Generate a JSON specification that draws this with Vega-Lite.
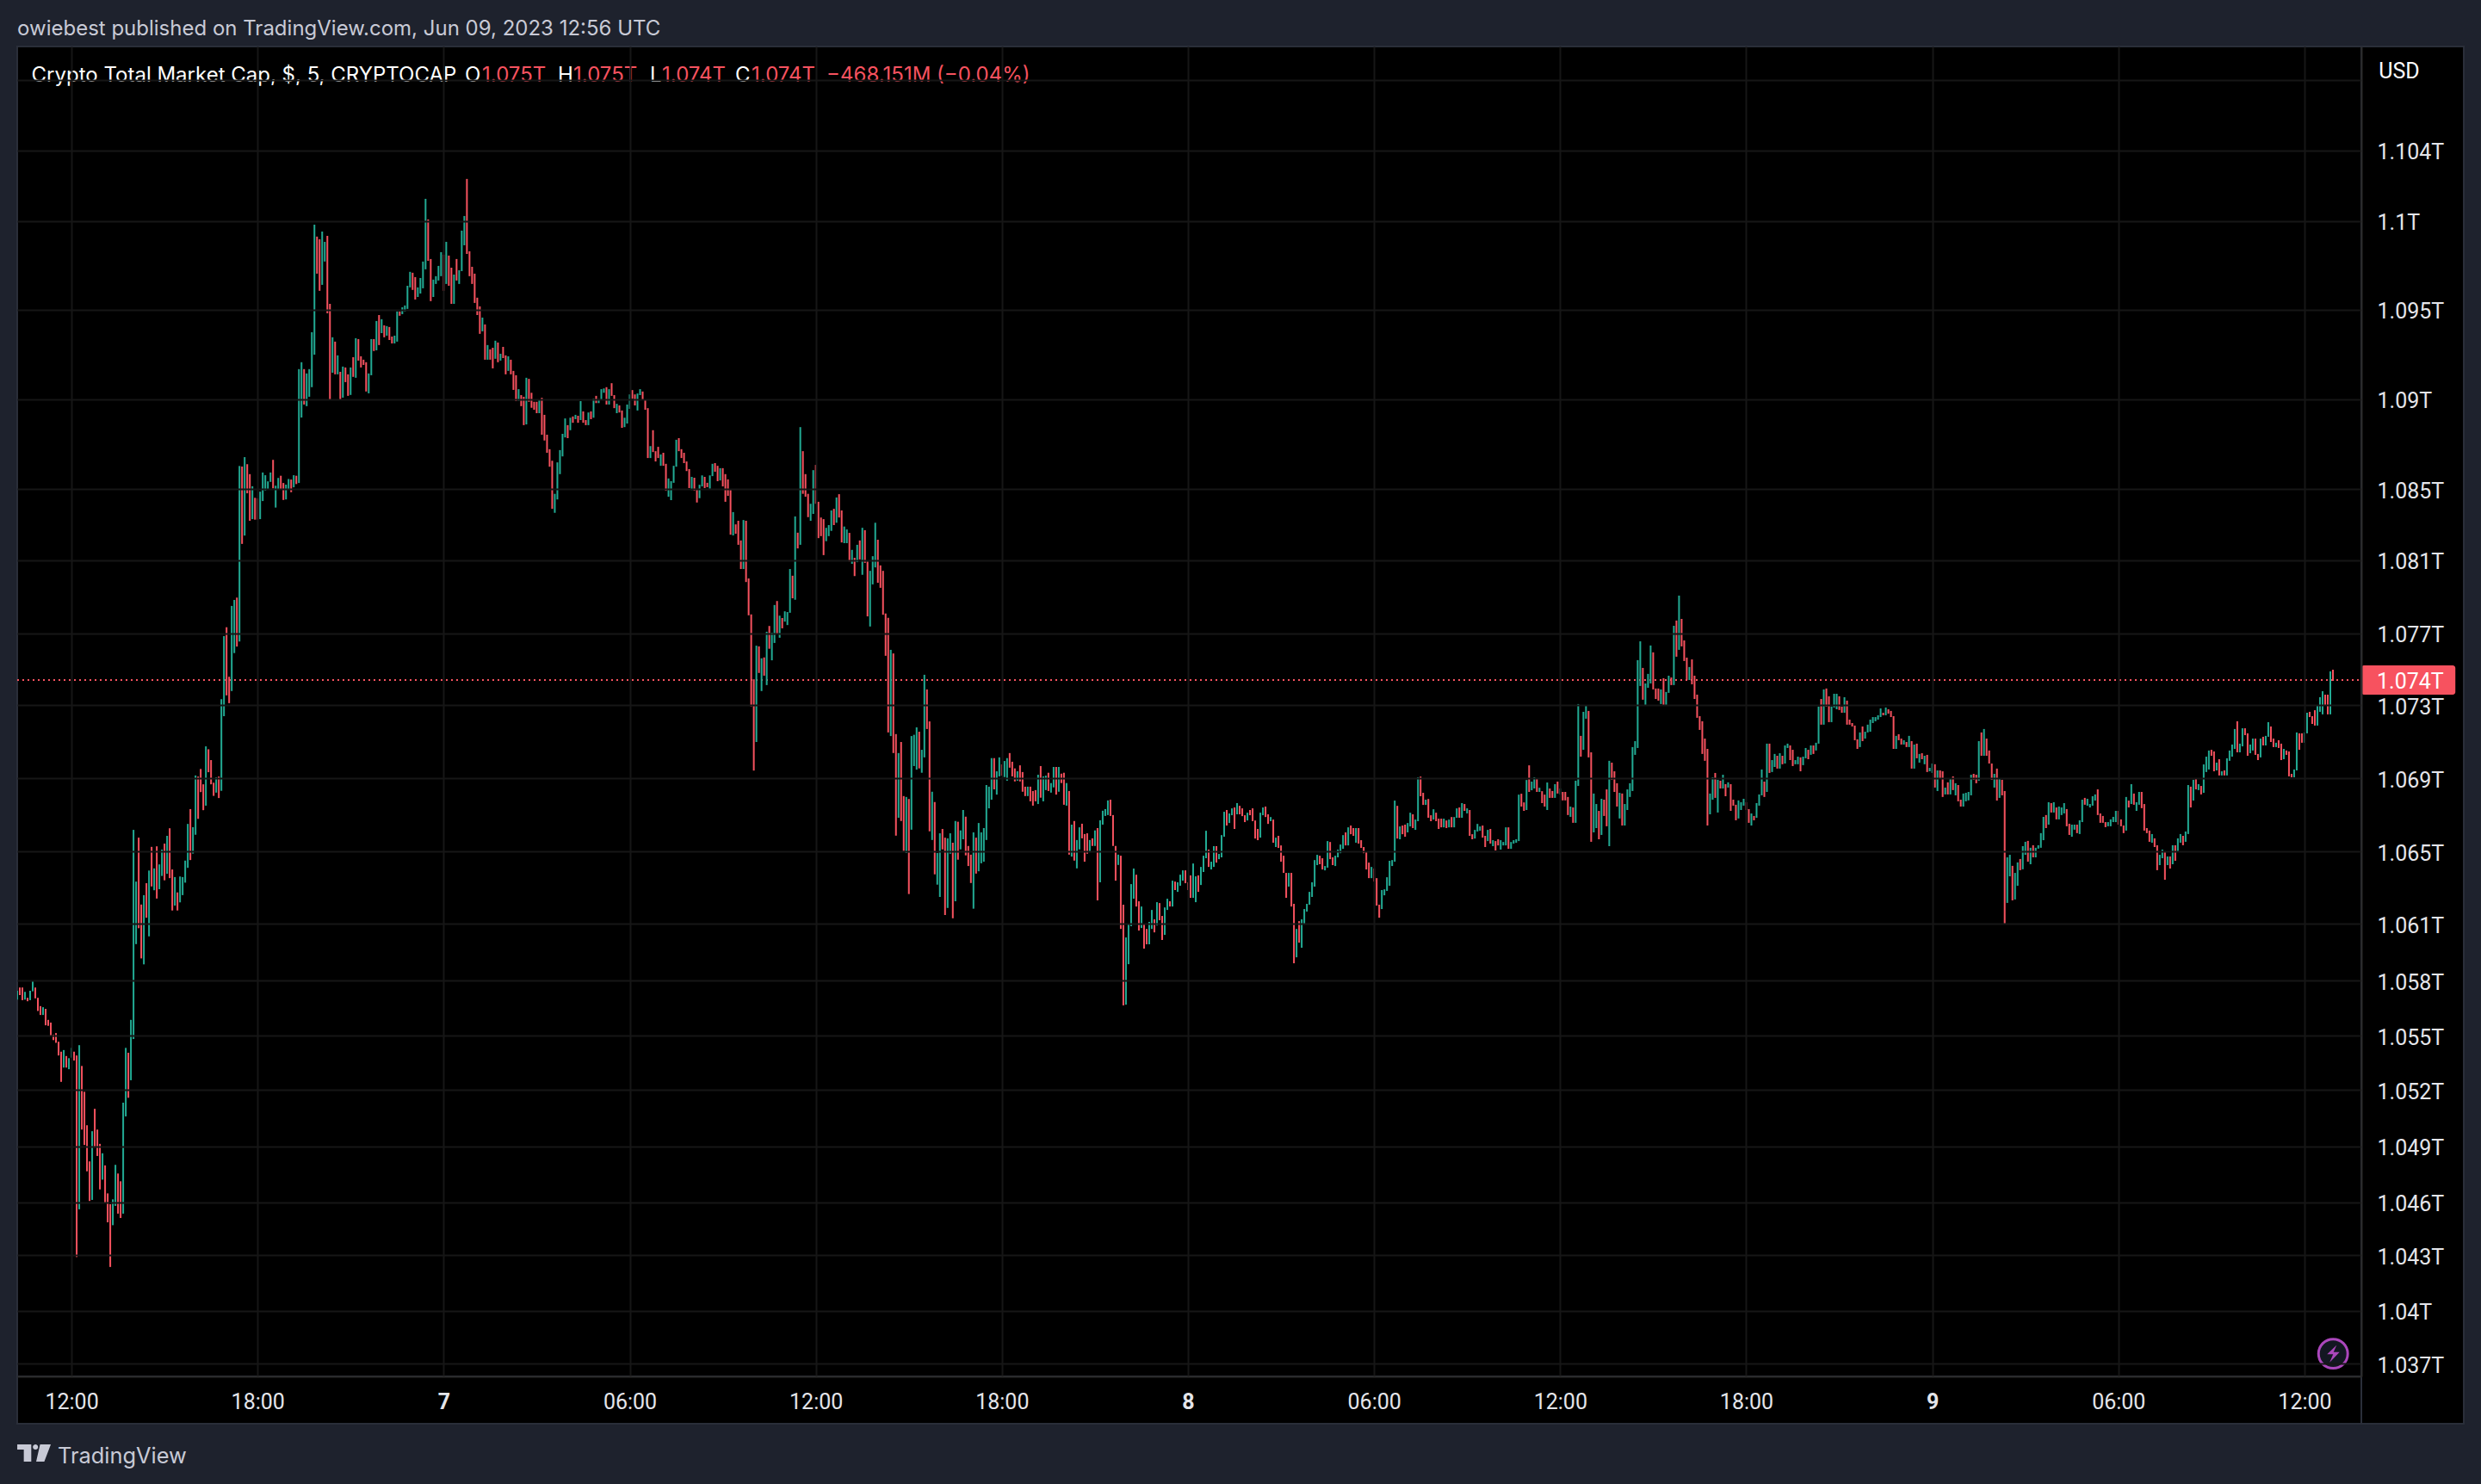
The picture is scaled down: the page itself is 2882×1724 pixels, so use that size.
{"$schema":"https://vega.github.io/schema/vega-lite/v6.json","width":2723,"height":1545,"autosize":"none","padding":{"left":20,"top":54,"right":139,"bottom":125},"background":"#1e222d","config":{"view":{"fill":"#000000","stroke":"#2a2e39","strokeWidth":2},"font":"Inter"},
"datasets":{
"frame":[{"m":5150,"m2":5348.2,"p":1109.857,"p2":1033.667},{"m":615,"m2":5150,"p":1036.286,"p2":1033.667}],
"last":[{"p":1074.81}],
"tag":[{"m":5150,"m2":5331.9,"p":1075.62,"p2":1074.0}],
"tagtext":[{"m":5180,"p":1074.71,"t":"1.074T","d":"white"},{"m":5183.7,"p":1108.47,"t":"USD","d":"white"}],
"brand":[{"m":693.35,"p":1031.85,"t":"TradingView","d":"muted"}],
"ann":[{"m":615.07,"p":1110.82,"t":"owiebest published on TradingView.com, Jun 09, 2023 12:56 UTC","d":"muted"},{"m":642.55,"p":1108.23,"t":"Crypto Total Market Cap, $, 5, CRYPTOCAP","d":"white"},{"m":1481.2,"p":1108.23,"t":"O","d":"white"},{"m":1514.5,"p":1108.23,"t":"1.075T","d":"r"},{"m":1661,"p":1108.23,"t":"H","d":"white"},{"m":1691,"p":1108.23,"t":"1.075T","d":"r"},{"m":1839.3,"p":1108.23,"t":"L","d":"white"},{"m":1862.6,"p":1108.23,"t":"1.074T","d":"r"},{"m":2004.1,"p":1108.23,"t":"C","d":"white"},{"m":2035.8,"p":1108.23,"t":"1.074T","d":"r"},{"m":2180.7,"p":1108.23,"t":"−468.151M (−0.04%)","d":"r"}],
"badge":[{"m":5095.4,"p":1037.54}],
"logo":[{"m":647.55,"p":1032.05}],
"bars":[{"m":615,"p":1057.62,"l":1057.13,"d":"u"},{"m":620,"p":1057.8,"l":1057.38,"d":"r"},{"m":625,"p":1057.8,"l":1057.1,"d":"r"},{"m":630,"p":1057.56,"l":1057.13,"d":"u"},{"m":635,"p":1057.23,"l":1057.04,"d":"r"},{"m":640,"p":1057.62,"l":1057.1,"d":"u"},{"m":645,"p":1058.14,"l":1057.59,"d":"u"},{"m":650,"p":1057.8,"l":1057.2,"d":"r"},{"m":655,"p":1057.23,"l":1056.5,"d":"r"},{"m":660,"p":1056.77,"l":1056.28,"d":"r"},{"m":665,"p":1056.71,"l":1056.28,"d":"u"},{"m":670,"p":1056.62,"l":1055.71,"d":"r"},{"m":675,"p":1056.01,"l":1055.68,"d":"r"},{"m":680,"p":1055.86,"l":1055.13,"d":"r"},{"m":685,"p":1055.19,"l":1054.89,"d":"r"},{"m":690,"p":1055.28,"l":1054.74,"d":"r"},{"m":695,"p":1054.8,"l":1054.04,"d":"r"},{"m":700,"p":1054.25,"l":1052.58,"d":"r"},{"m":705,"p":1054.34,"l":1053.37,"d":"u"},{"m":710,"p":1054.01,"l":1053.37,"d":"r"},{"m":715,"p":1053.89,"l":1053.28,"d":"u"},{"m":720,"p":1054.46,"l":1053.92,"d":"u"},{"m":725,"p":1054.25,"l":1053.76,"d":"r"},{"m":730,"p":1054.04,"l":1042.89,"d":"r"},{"m":735,"p":1054.61,"l":1045.53,"d":"u"},{"m":740,"p":1053.46,"l":1049.94,"d":"r"},{"m":745,"p":1052.03,"l":1049.09,"d":"r"},{"m":750,"p":1050.18,"l":1047.63,"d":"r"},{"m":755,"p":1048.18,"l":1045.99,"d":"r"},{"m":760,"p":1049.85,"l":1046.05,"d":"u"},{"m":765,"p":1051.09,"l":1048.94,"d":"r"},{"m":770,"p":1049.94,"l":1048.48,"d":"r"},{"m":775,"p":1049.15,"l":1046.63,"d":"r"},{"m":780,"p":1048.63,"l":1047.17,"d":"u"},{"m":785,"p":1047.96,"l":1045.87,"d":"r"},{"m":790,"p":1046.41,"l":1044.81,"d":"r"},{"m":795,"p":1045.81,"l":1042.34,"d":"r"},{"m":800,"p":1046.08,"l":1044.65,"d":"u"},{"m":805,"p":1047.99,"l":1045.72,"d":"u"},{"m":810,"p":1047.51,"l":1045.29,"d":"r"},{"m":815,"p":1047.08,"l":1045.05,"d":"r"},{"m":820,"p":1051.43,"l":1045.29,"d":"u"},{"m":825,"p":1054.46,"l":1050.67,"d":"u"},{"m":830,"p":1054.19,"l":1051.7,"d":"r"},{"m":835,"p":1056.01,"l":1052.67,"d":"u"},{"m":840,"p":1066.52,"l":1054.95,"d":"u"},{"m":845,"p":1063.66,"l":1060.2,"d":"u"},{"m":850,"p":1066.09,"l":1061.08,"d":"r"},{"m":855,"p":1062.39,"l":1059.41,"d":"r"},{"m":860,"p":1062.91,"l":1059.08,"d":"u"},{"m":865,"p":1063.57,"l":1061.66,"d":"r"},{"m":870,"p":1064.27,"l":1060.63,"d":"u"},{"m":875,"p":1065.58,"l":1063.39,"d":"r"},{"m":880,"p":1064.39,"l":1063.18,"d":"u"},{"m":885,"p":1065.61,"l":1062.72,"d":"r"},{"m":890,"p":1064.61,"l":1063.24,"d":"u"},{"m":895,"p":1065.43,"l":1063.97,"d":"u"},{"m":900,"p":1065.76,"l":1063.73,"d":"r"},{"m":905,"p":1066.19,"l":1064.09,"d":"u"},{"m":910,"p":1066.61,"l":1063.85,"d":"r"},{"m":915,"p":1064.33,"l":1062.06,"d":"r"},{"m":920,"p":1063.91,"l":1062.33,"d":"u"},{"m":925,"p":1063.06,"l":1062.06,"d":"r"},{"m":930,"p":1063.94,"l":1062.51,"d":"u"},{"m":935,"p":1063.91,"l":1062.91,"d":"u"},{"m":940,"p":1064.82,"l":1063.6,"d":"u"},{"m":945,"p":1066.85,"l":1064.42,"d":"u"},{"m":950,"p":1067.67,"l":1064.85,"d":"r"},{"m":955,"p":1066.67,"l":1065.21,"d":"u"},{"m":960,"p":1069.53,"l":1066.25,"d":"u"},{"m":965,"p":1069.47,"l":1067.13,"d":"r"},{"m":970,"p":1069.89,"l":1068.61,"d":"r"},{"m":975,"p":1069.04,"l":1067.61,"d":"r"},{"m":980,"p":1071.14,"l":1067.86,"d":"u"},{"m":985,"p":1070.98,"l":1069.71,"d":"r"},{"m":990,"p":1070.38,"l":1069.04,"d":"r"},{"m":995,"p":1069.13,"l":1068.4,"d":"r"},{"m":1000,"p":1069.43,"l":1068.58,"d":"u"},{"m":1005,"p":1069.47,"l":1068.28,"d":"r"},{"m":1010,"p":1073.75,"l":1068.68,"d":"u"},{"m":1015,"p":1077.24,"l":1072.81,"d":"u"},{"m":1020,"p":1077.73,"l":1073.96,"d":"r"},{"m":1025,"p":1074.99,"l":1073.53,"d":"r"},{"m":1030,"p":1078.91,"l":1074.2,"d":"u"},{"m":1035,"p":1079.24,"l":1076.3,"d":"u"},{"m":1040,"p":1079.37,"l":1076.66,"d":"r"},{"m":1045,"p":1086.65,"l":1076.94,"d":"u"},{"m":1050,"p":1086.62,"l":1082.34,"d":"r"},{"m":1055,"p":1087.14,"l":1082.8,"d":"u"},{"m":1060,"p":1086.75,"l":1085.14,"d":"r"},{"m":1065,"p":1086.2,"l":1083.62,"d":"r"},{"m":1070,"p":1085.53,"l":1083.71,"d":"u"},{"m":1075,"p":1084.89,"l":1083.68,"d":"r"},{"m":1080,"p":1084.86,"l":1083.68,"d":"r"},{"m":1085,"p":1085.23,"l":1083.71,"d":"u"},{"m":1090,"p":1086.29,"l":1084.71,"d":"u"},{"m":1095,"p":1086.14,"l":1085.29,"d":"u"},{"m":1100,"p":1085.8,"l":1085.38,"d":"u"},{"m":1105,"p":1086.29,"l":1085.77,"d":"u"},{"m":1110,"p":1086.99,"l":1085.41,"d":"r"},{"m":1115,"p":1085.56,"l":1084.35,"d":"u"},{"m":1120,"p":1085.99,"l":1085.38,"d":"u"},{"m":1125,"p":1086.11,"l":1085.38,"d":"r"},{"m":1130,"p":1085.71,"l":1084.77,"d":"r"},{"m":1135,"p":1085.62,"l":1084.8,"d":"u"},{"m":1140,"p":1085.93,"l":1085.38,"d":"u"},{"m":1145,"p":1085.9,"l":1085.2,"d":"r"},{"m":1150,"p":1086.14,"l":1085.47,"d":"u"},{"m":1155,"p":1086.11,"l":1085.65,"d":"r"},{"m":1160,"p":1092.01,"l":1085.71,"d":"u"},{"m":1165,"p":1092.39,"l":1089.33,"d":"u"},{"m":1170,"p":1092.01,"l":1090.05,"d":"r"},{"m":1175,"p":1091.77,"l":1089.96,"d":"u"},{"m":1180,"p":1092.01,"l":1090.48,"d":"u"},{"m":1185,"p":1094.05,"l":1091.01,"d":"u"},{"m":1190,"p":1100,"l":1092.81,"d":"u"},{"m":1195,"p":1099.34,"l":1097.29,"d":"r"},{"m":1200,"p":1099.19,"l":1096.34,"d":"r"},{"m":1205,"p":1099.62,"l":1096.67,"d":"u"},{"m":1210,"p":1099.05,"l":1097.96,"d":"u"},{"m":1215,"p":1099.38,"l":1095.1,"d":"r"},{"m":1220,"p":1095.62,"l":1090.29,"d":"r"},{"m":1225,"p":1093.77,"l":1091.81,"d":"u"},{"m":1230,"p":1093.53,"l":1091.72,"d":"r"},{"m":1235,"p":1092.77,"l":1091.72,"d":"u"},{"m":1240,"p":1091.86,"l":1090.29,"d":"r"},{"m":1245,"p":1092.15,"l":1090.43,"d":"u"},{"m":1250,"p":1092.1,"l":1091.29,"d":"r"},{"m":1255,"p":1091.72,"l":1090.53,"d":"r"},{"m":1260,"p":1092.1,"l":1090.58,"d":"u"},{"m":1265,"p":1092.67,"l":1091.58,"d":"r"},{"m":1270,"p":1093.72,"l":1091.53,"d":"u"},{"m":1275,"p":1093.67,"l":1092.48,"d":"r"},{"m":1280,"p":1092.72,"l":1092.1,"d":"r"},{"m":1285,"p":1092.53,"l":1092.24,"d":"r"},{"m":1290,"p":1092.39,"l":1090.77,"d":"r"},{"m":1295,"p":1091.77,"l":1090.67,"d":"u"},{"m":1300,"p":1093.67,"l":1091.67,"d":"u"},{"m":1305,"p":1093.67,"l":1093.01,"d":"r"},{"m":1310,"p":1094.67,"l":1093.05,"d":"u"},{"m":1315,"p":1095,"l":1093.34,"d":"r"},{"m":1320,"p":1094.77,"l":1094,"d":"u"},{"m":1325,"p":1094.43,"l":1093.77,"d":"r"},{"m":1330,"p":1094.39,"l":1093.86,"d":"u"},{"m":1335,"p":1094.34,"l":1093.62,"d":"r"},{"m":1340,"p":1093.81,"l":1093.43,"d":"r"},{"m":1345,"p":1093.86,"l":1093.43,"d":"u"},{"m":1350,"p":1095.2,"l":1093.53,"d":"u"},{"m":1355,"p":1095.2,"l":1094.96,"d":"r"},{"m":1360,"p":1095.43,"l":1095.05,"d":"u"},{"m":1365,"p":1095.53,"l":1095.2,"d":"u"},{"m":1370,"p":1096.62,"l":1095.34,"d":"u"},{"m":1375,"p":1097.39,"l":1096.53,"d":"u"},{"m":1380,"p":1097.34,"l":1096.39,"d":"r"},{"m":1385,"p":1097.1,"l":1095.86,"d":"r"},{"m":1390,"p":1096.53,"l":1096,"d":"u"},{"m":1395,"p":1097.05,"l":1096.19,"d":"u"},{"m":1400,"p":1097.96,"l":1096.48,"d":"u"},{"m":1405,"p":1101.43,"l":1097.53,"d":"u"},{"m":1410,"p":1100.29,"l":1098,"d":"r"},{"m":1415,"p":1098.1,"l":1095.77,"d":"r"},{"m":1420,"p":1096.96,"l":1096,"d":"u"},{"m":1425,"p":1097.15,"l":1096.72,"d":"u"},{"m":1430,"p":1097.72,"l":1096.91,"d":"u"},{"m":1435,"p":1098.48,"l":1097.15,"d":"u"},{"m":1440,"p":1098.34,"l":1096.34,"d":"r"},{"m":1445,"p":1099.05,"l":1096.72,"d":"u"},{"m":1450,"p":1098.29,"l":1096.62,"d":"r"},{"m":1455,"p":1097.62,"l":1095.62,"d":"r"},{"m":1460,"p":1097.24,"l":1095.62,"d":"u"},{"m":1465,"p":1098.1,"l":1096.91,"d":"r"},{"m":1470,"p":1097.48,"l":1096.72,"d":"u"},{"m":1475,"p":1099.67,"l":1097.43,"d":"u"},{"m":1480,"p":1100.48,"l":1098.86,"d":"u"},{"m":1485,"p":1102.53,"l":1098.38,"d":"r"},{"m":1490,"p":1098.53,"l":1097.15,"d":"r"},{"m":1495,"p":1097.67,"l":1096.72,"d":"r"},{"m":1500,"p":1097.29,"l":1095.67,"d":"r"},{"m":1505,"p":1095.96,"l":1095,"d":"r"},{"m":1510,"p":1095.48,"l":1093.96,"d":"r"},{"m":1515,"p":1094.86,"l":1094.1,"d":"u"},{"m":1520,"p":1094.48,"l":1092.53,"d":"r"},{"m":1525,"p":1093.34,"l":1092.53,"d":"u"},{"m":1530,"p":1093.1,"l":1092.53,"d":"r"},{"m":1535,"p":1093.19,"l":1092.05,"d":"r"},{"m":1540,"p":1093.58,"l":1092.58,"d":"u"},{"m":1545,"p":1093.48,"l":1092.39,"d":"r"},{"m":1550,"p":1092.86,"l":1092.48,"d":"u"},{"m":1555,"p":1093.24,"l":1092.62,"d":"r"},{"m":1560,"p":1092.77,"l":1091.72,"d":"r"},{"m":1565,"p":1092.72,"l":1091.91,"d":"u"},{"m":1570,"p":1092.53,"l":1091.72,"d":"r"},{"m":1575,"p":1091.91,"l":1090.86,"d":"r"},{"m":1580,"p":1091.67,"l":1090.24,"d":"r"},{"m":1585,"p":1090.9,"l":1090.26,"d":"u"},{"m":1590,"p":1090.57,"l":1089.96,"d":"r"},{"m":1595,"p":1090.48,"l":1088.91,"d":"r"},{"m":1600,"p":1091.53,"l":1088.95,"d":"u"},{"m":1605,"p":1091.47,"l":1090.2,"d":"r"},{"m":1610,"p":1090.7,"l":1089.87,"d":"r"},{"m":1615,"p":1090.2,"l":1089.76,"d":"r"},{"m":1620,"p":1090.2,"l":1089.57,"d":"r"},{"m":1625,"p":1090.29,"l":1089.57,"d":"u"},{"m":1630,"p":1090.42,"l":1088.38,"d":"r"},{"m":1635,"p":1089.48,"l":1088.06,"d":"r"},{"m":1640,"p":1088.38,"l":1087.38,"d":"r"},{"m":1645,"p":1087.58,"l":1086.61,"d":"r"},{"m":1650,"p":1086.94,"l":1084.28,"d":"r"},{"m":1655,"p":1085.11,"l":1084.06,"d":"u"},{"m":1660,"p":1086.85,"l":1084.8,"d":"u"},{"m":1665,"p":1087.53,"l":1086.2,"d":"u"},{"m":1670,"p":1088.43,"l":1087.18,"d":"u"},{"m":1675,"p":1089.28,"l":1088.23,"d":"u"},{"m":1680,"p":1088.91,"l":1088.19,"d":"r"},{"m":1685,"p":1089.32,"l":1088.63,"d":"u"},{"m":1690,"p":1089.39,"l":1089.04,"d":"r"},{"m":1695,"p":1089.48,"l":1089.24,"d":"u"},{"m":1700,"p":1089.43,"l":1089.04,"d":"r"},{"m":1705,"p":1090.24,"l":1089.19,"d":"u"},{"m":1710,"p":1089.67,"l":1089.04,"d":"r"},{"m":1715,"p":1089.19,"l":1088.91,"d":"r"},{"m":1720,"p":1089.61,"l":1088.91,"d":"u"},{"m":1725,"p":1089.67,"l":1089.24,"d":"r"},{"m":1730,"p":1090.37,"l":1089.32,"d":"u"},{"m":1735,"p":1090.53,"l":1090.13,"d":"r"},{"m":1740,"p":1090.35,"l":1090.13,"d":"u"},{"m":1745,"p":1090.9,"l":1090.29,"d":"u"},{"m":1750,"p":1090.94,"l":1090.7,"d":"u"},{"m":1755,"p":1091.01,"l":1090.05,"d":"r"},{"m":1760,"p":1090.9,"l":1090.05,"d":"u"},{"m":1765,"p":1091.23,"l":1090.53,"d":"r"},{"m":1770,"p":1090.57,"l":1089.85,"d":"r"},{"m":1775,"p":1090.09,"l":1089.57,"d":"u"},{"m":1780,"p":1090,"l":1089.61,"d":"r"},{"m":1785,"p":1089.72,"l":1088.76,"d":"r"},{"m":1790,"p":1089.32,"l":1088.8,"d":"u"},{"m":1795,"p":1090.05,"l":1089,"d":"u"},{"m":1800,"p":1090.61,"l":1089.81,"d":"u"},{"m":1805,"p":1090.85,"l":1090.37,"d":"r"},{"m":1810,"p":1090.61,"l":1090,"d":"r"},{"m":1815,"p":1090.66,"l":1089.72,"d":"u"},{"m":1820,"p":1090.9,"l":1090.57,"d":"u"},{"m":1825,"p":1090.77,"l":1090.29,"d":"r"},{"m":1830,"p":1090.33,"l":1089.76,"d":"r"},{"m":1835,"p":1089.85,"l":1087.09,"d":"r"},{"m":1840,"p":1087.75,"l":1087.09,"d":"u"},{"m":1845,"p":1088.63,"l":1087.42,"d":"r"},{"m":1850,"p":1087.47,"l":1086.9,"d":"r"},{"m":1855,"p":1087.71,"l":1087.09,"d":"r"},{"m":1860,"p":1087.29,"l":1086.66,"d":"u"},{"m":1865,"p":1087.38,"l":1086.66,"d":"r"},{"m":1870,"p":1086.77,"l":1085.28,"d":"r"},{"m":1875,"p":1085.96,"l":1084.95,"d":"u"},{"m":1880,"p":1085.81,"l":1084.76,"d":"u"},{"m":1885,"p":1086.66,"l":1085.72,"d":"u"},{"m":1890,"p":1088.1,"l":1086.61,"d":"u"},{"m":1895,"p":1088.19,"l":1087.47,"d":"r"},{"m":1900,"p":1087.58,"l":1087.09,"d":"r"},{"m":1905,"p":1087.38,"l":1086.81,"d":"r"},{"m":1910,"p":1086.9,"l":1086.37,"d":"r"},{"m":1915,"p":1086.48,"l":1085.43,"d":"r"},{"m":1920,"p":1086.05,"l":1085.32,"d":"u"},{"m":1925,"p":1086,"l":1085.28,"d":"r"},{"m":1930,"p":1085.39,"l":1084.63,"d":"r"},{"m":1935,"p":1085.61,"l":1084.87,"d":"u"},{"m":1940,"p":1086.13,"l":1085.52,"d":"u"},{"m":1945,"p":1086.05,"l":1085.43,"d":"r"},{"m":1950,"p":1085.72,"l":1085.48,"d":"r"},{"m":1955,"p":1086.13,"l":1085.39,"d":"u"},{"m":1960,"p":1086.77,"l":1086.09,"d":"u"},{"m":1965,"p":1086.81,"l":1086.33,"d":"r"},{"m":1970,"p":1086.66,"l":1085.81,"d":"r"},{"m":1975,"p":1086.53,"l":1085.85,"d":"u"},{"m":1980,"p":1086.53,"l":1085.52,"d":"r"},{"m":1985,"p":1086.2,"l":1084.67,"d":"r"},{"m":1990,"p":1085.91,"l":1085,"d":"r"},{"m":1995,"p":1085.32,"l":1082.85,"d":"r"},{"m":2000,"p":1084.1,"l":1082.81,"d":"u"},{"m":2005,"p":1083.42,"l":1082.9,"d":"r"},{"m":2010,"p":1083.62,"l":1082.29,"d":"r"},{"m":2015,"p":1082.53,"l":1080.95,"d":"r"},{"m":2020,"p":1083.66,"l":1080.95,"d":"u"},{"m":2025,"p":1083.62,"l":1080.23,"d":"r"},{"m":2030,"p":1080.43,"l":1078.39,"d":"r"},{"m":2035,"p":1078.44,"l":1073.35,"d":"r"},{"m":2040,"p":1074.85,"l":1069.8,"d":"r"},{"m":2045,"p":1076.71,"l":1071.38,"d":"u"},{"m":2050,"p":1076.67,"l":1075.2,"d":"r"},{"m":2055,"p":1076.01,"l":1074.2,"d":"u"},{"m":2060,"p":1076.06,"l":1075.05,"d":"r"},{"m":2065,"p":1077.48,"l":1074.53,"d":"u"},{"m":2070,"p":1077.8,"l":1076.54,"d":"r"},{"m":2075,"p":1077.43,"l":1075.9,"d":"u"},{"m":2080,"p":1078.96,"l":1076.86,"d":"u"},{"m":2085,"p":1079.18,"l":1077.35,"d":"r"},{"m":2090,"p":1078.37,"l":1077.15,"d":"u"},{"m":2095,"p":1078.24,"l":1077.67,"d":"r"},{"m":2100,"p":1078.61,"l":1078.04,"d":"u"},{"m":2105,"p":1078.57,"l":1077.85,"d":"u"},{"m":2110,"p":1080.95,"l":1078.53,"d":"u"},{"m":2115,"p":1080.58,"l":1079.33,"d":"r"},{"m":2120,"p":1083.86,"l":1079.25,"d":"u"},{"m":2125,"p":1082.96,"l":1082.09,"d":"r"},{"m":2130,"p":1088.8,"l":1082.29,"d":"u"},{"m":2135,"p":1087.47,"l":1085.11,"d":"r"},{"m":2140,"p":1086.2,"l":1084.95,"d":"r"},{"m":2145,"p":1085.11,"l":1083.82,"d":"r"},{"m":2150,"p":1084.56,"l":1083.62,"d":"u"},{"m":2155,"p":1086.42,"l":1084,"d":"u"},{"m":2160,"p":1086.71,"l":1084.56,"d":"r"},{"m":2165,"p":1084.67,"l":1082.66,"d":"r"},{"m":2170,"p":1083.8,"l":1082.77,"d":"r"},{"m":2175,"p":1083.71,"l":1081.72,"d":"r"},{"m":2180,"p":1083.23,"l":1082.49,"d":"u"},{"m":2185,"p":1083.38,"l":1082.77,"d":"u"},{"m":2190,"p":1084.19,"l":1083.06,"d":"u"},{"m":2195,"p":1084.28,"l":1083.38,"d":"r"},{"m":2200,"p":1084.91,"l":1083.51,"d":"u"},{"m":2205,"p":1085.09,"l":1083.8,"d":"r"},{"m":2210,"p":1084.19,"l":1082.42,"d":"r"},{"m":2215,"p":1083.3,"l":1082.38,"d":"u"},{"m":2220,"p":1083.14,"l":1082.38,"d":"u"},{"m":2225,"p":1082.95,"l":1081.37,"d":"r"},{"m":2230,"p":1082.01,"l":1081.24,"d":"u"},{"m":2235,"p":1081.57,"l":1080.56,"d":"r"},{"m":2240,"p":1082.29,"l":1081.33,"d":"u"},{"m":2245,"p":1082.53,"l":1081.48,"d":"r"},{"m":2250,"p":1083.23,"l":1080.63,"d":"u"},{"m":2255,"p":1083.1,"l":1081.29,"d":"r"},{"m":2260,"p":1081.37,"l":1078.33,"d":"r"},{"m":2265,"p":1080.85,"l":1077.77,"d":"u"},{"m":2270,"p":1081.66,"l":1080.1,"d":"u"},{"m":2275,"p":1083.51,"l":1081.04,"d":"u"},{"m":2280,"p":1082.57,"l":1080.19,"d":"r"},{"m":2285,"p":1081.15,"l":1079.91,"d":"r"},{"m":2290,"p":1080.85,"l":1078.42,"d":"r"},{"m":2295,"p":1078.49,"l":1076.15,"d":"r"},{"m":2300,"p":1078.25,"l":1071.91,"d":"r"},{"m":2305,"p":1076.48,"l":1071.71,"d":"u"},{"m":2310,"p":1076.28,"l":1070.77,"d":"r"},{"m":2315,"p":1071.82,"l":1066.2,"d":"r"},{"m":2320,"p":1070.77,"l":1067.19,"d":"u"},{"m":2325,"p":1071.38,"l":1067.01,"d":"r"},{"m":2330,"p":1068.39,"l":1065.35,"d":"r"},{"m":2335,"p":1068.34,"l":1065.24,"d":"u"},{"m":2340,"p":1068.23,"l":1062.97,"d":"r"},{"m":2345,"p":1071.71,"l":1066.53,"d":"u"},{"m":2350,"p":1071.78,"l":1070.05,"d":"u"},{"m":2355,"p":1072.19,"l":1069.85,"d":"u"},{"m":2360,"p":1071.95,"l":1069.92,"d":"r"},{"m":2365,"p":1070.95,"l":1069.68,"d":"u"},{"m":2370,"p":1075.1,"l":1070.53,"d":"u"},{"m":2375,"p":1074.29,"l":1072.1,"d":"r"},{"m":2380,"p":1072.52,"l":1066.44,"d":"r"},{"m":2385,"p":1068.63,"l":1065.96,"d":"u"},{"m":2390,"p":1068.06,"l":1064.06,"d":"r"},{"m":2395,"p":1065.24,"l":1063.49,"d":"u"},{"m":2400,"p":1066.33,"l":1062.81,"d":"u"},{"m":2405,"p":1066.57,"l":1065.44,"d":"r"},{"m":2410,"p":1066.09,"l":1061.81,"d":"r"},{"m":2415,"p":1066.05,"l":1062.2,"d":"u"},{"m":2420,"p":1066.33,"l":1065.2,"d":"u"},{"m":2425,"p":1065.81,"l":1061.63,"d":"r"},{"m":2430,"p":1067.01,"l":1062.57,"d":"u"},{"m":2435,"p":1066.97,"l":1064.87,"d":"r"},{"m":2440,"p":1066.49,"l":1065.44,"d":"u"},{"m":2445,"p":1067.62,"l":1066,"d":"u"},{"m":2450,"p":1067.25,"l":1065.11,"d":"r"},{"m":2455,"p":1065.63,"l":1064.52,"d":"r"},{"m":2460,"p":1065.15,"l":1063.58,"d":"r"},{"m":2465,"p":1066.38,"l":1062.16,"d":"u"},{"m":2470,"p":1066.09,"l":1064.1,"d":"r"},{"m":2475,"p":1066.9,"l":1064.23,"d":"u"},{"m":2480,"p":1066.38,"l":1064.67,"d":"u"},{"m":2485,"p":1066.62,"l":1064.76,"d":"u"},{"m":2490,"p":1069,"l":1065.96,"d":"u"},{"m":2495,"p":1068.91,"l":1067.71,"d":"u"},{"m":2500,"p":1070.49,"l":1068.19,"d":"u"},{"m":2505,"p":1070.49,"l":1068.76,"d":"r"},{"m":2510,"p":1069.76,"l":1068.47,"d":"u"},{"m":2515,"p":1070.53,"l":1069.48,"d":"u"},{"m":2520,"p":1070.14,"l":1069.52,"d":"r"},{"m":2525,"p":1070.33,"l":1069.44,"d":"u"},{"m":2530,"p":1070.49,"l":1069.24,"d":"u"},{"m":2535,"p":1070.77,"l":1069.96,"d":"r"},{"m":2540,"p":1070.29,"l":1069.48,"d":"r"},{"m":2545,"p":1069.92,"l":1069.2,"d":"r"},{"m":2550,"p":1069.76,"l":1069.24,"d":"u"},{"m":2555,"p":1070.09,"l":1069.2,"d":"r"},{"m":2560,"p":1069.72,"l":1068.63,"d":"r"},{"m":2565,"p":1068.91,"l":1068.39,"d":"r"},{"m":2570,"p":1068.91,"l":1068.39,"d":"u"},{"m":2575,"p":1068.91,"l":1068.1,"d":"r"},{"m":2580,"p":1068.67,"l":1067.86,"d":"r"},{"m":2585,"p":1068.72,"l":1068.1,"d":"r"},{"m":2590,"p":1069.57,"l":1067.95,"d":"u"},{"m":2595,"p":1070.05,"l":1068.3,"d":"r"},{"m":2600,"p":1069.48,"l":1068.1,"d":"u"},{"m":2605,"p":1069.52,"l":1068.72,"d":"u"},{"m":2610,"p":1069.68,"l":1068.67,"d":"r"},{"m":2615,"p":1069.11,"l":1068.58,"d":"u"},{"m":2620,"p":1070,"l":1068.87,"d":"u"},{"m":2625,"p":1070,"l":1068.47,"d":"r"},{"m":2630,"p":1070,"l":1068.63,"d":"u"},{"m":2635,"p":1069.63,"l":1069.11,"d":"r"},{"m":2640,"p":1069.68,"l":1067.91,"d":"r"},{"m":2645,"p":1069.11,"l":1067.86,"d":"u"},{"m":2650,"p":1068.67,"l":1065.15,"d":"r"},{"m":2655,"p":1066.81,"l":1065.04,"d":"u"},{"m":2660,"p":1067.01,"l":1064.82,"d":"r"},{"m":2665,"p":1065.96,"l":1064.39,"d":"u"},{"m":2670,"p":1066.66,"l":1065.44,"d":"u"},{"m":2675,"p":1066.86,"l":1066.05,"d":"r"},{"m":2680,"p":1066.29,"l":1064.76,"d":"r"},{"m":2685,"p":1066.33,"l":1065.2,"d":"r"},{"m":2690,"p":1065.96,"l":1065.28,"d":"u"},{"m":2695,"p":1066.05,"l":1065.63,"d":"r"},{"m":2700,"p":1066.49,"l":1065.63,"d":"u"},{"m":2705,"p":1066.62,"l":1062.62,"d":"r"},{"m":2710,"p":1067.05,"l":1063.62,"d":"u"},{"m":2715,"p":1067.58,"l":1066.81,"d":"u"},{"m":2720,"p":1067.67,"l":1067.29,"d":"u"},{"m":2725,"p":1068.15,"l":1067.34,"d":"u"},{"m":2730,"p":1068.19,"l":1067.29,"d":"r"},{"m":2735,"p":1067.34,"l":1065.63,"d":"r"},{"m":2740,"p":1065.63,"l":1063.71,"d":"r"},{"m":2745,"p":1065.15,"l":1064.58,"d":"u"},{"m":2750,"p":1065.09,"l":1061.04,"d":"r"},{"m":2755,"p":1062.38,"l":1056.81,"d":"r"},{"m":2760,"p":1060.57,"l":1056.85,"d":"u"},{"m":2765,"p":1061.33,"l":1059.09,"d":"u"},{"m":2770,"p":1063.52,"l":1061.19,"d":"u"},{"m":2775,"p":1064.38,"l":1062.71,"d":"u"},{"m":2780,"p":1064.04,"l":1062.28,"d":"r"},{"m":2785,"p":1062.57,"l":1060.95,"d":"r"},{"m":2790,"p":1062.28,"l":1061.09,"d":"u"},{"m":2795,"p":1061.33,"l":1059.95,"d":"r"},{"m":2800,"p":1061.04,"l":1060.19,"d":"r"},{"m":2805,"p":1061.43,"l":1060.19,"d":"u"},{"m":2810,"p":1062.09,"l":1061.04,"d":"u"},{"m":2815,"p":1061.57,"l":1060.85,"d":"r"},{"m":2820,"p":1062.52,"l":1061.23,"d":"u"},{"m":2825,"p":1062.47,"l":1061.52,"d":"r"},{"m":2830,"p":1061.76,"l":1060.43,"d":"r"},{"m":2835,"p":1062.23,"l":1060.71,"d":"u"},{"m":2840,"p":1062.71,"l":1062.09,"d":"u"},{"m":2845,"p":1062.57,"l":1062.28,"d":"r"},{"m":2850,"p":1063.71,"l":1062.28,"d":"u"},{"m":2855,"p":1063.66,"l":1063.19,"d":"r"},{"m":2860,"p":1063.62,"l":1063.09,"d":"u"},{"m":2865,"p":1064.04,"l":1063.43,"d":"u"},{"m":2870,"p":1064.28,"l":1063.71,"d":"u"},{"m":2875,"p":1064.28,"l":1063.57,"d":"r"},{"m":2880,"p":1063.62,"l":1063.19,"d":"r"},{"m":2885,"p":1064,"l":1062.76,"d":"r"},{"m":2890,"p":1064.66,"l":1062.76,"d":"u"},{"m":2895,"p":1063.95,"l":1062.52,"d":"u"},{"m":2900,"p":1064,"l":1063.09,"d":"r"},{"m":2905,"p":1064.47,"l":1063.47,"d":"u"},{"m":2910,"p":1065.09,"l":1064.19,"d":"u"},{"m":2915,"p":1066.47,"l":1064.95,"d":"u"},{"m":2920,"p":1065.43,"l":1064.47,"d":"r"},{"m":2925,"p":1064.76,"l":1064.33,"d":"u"},{"m":2930,"p":1065.62,"l":1064.47,"d":"u"},{"m":2935,"p":1065.62,"l":1064.71,"d":"r"},{"m":2940,"p":1065.19,"l":1064.9,"d":"u"},{"m":2945,"p":1066.23,"l":1065,"d":"u"},{"m":2950,"p":1067.52,"l":1066.14,"d":"u"},{"m":2955,"p":1067.62,"l":1066.76,"d":"r"},{"m":2960,"p":1067.43,"l":1066.9,"d":"u"},{"m":2965,"p":1067.71,"l":1067.33,"d":"u"},{"m":2970,"p":1067.76,"l":1066.57,"d":"r"},{"m":2975,"p":1068,"l":1067.38,"d":"u"},{"m":2980,"p":1067.85,"l":1067.38,"d":"r"},{"m":2985,"p":1067.71,"l":1067.28,"d":"r"},{"m":2990,"p":1067.33,"l":1066.95,"d":"r"},{"m":2995,"p":1067.47,"l":1067.04,"d":"u"},{"m":3000,"p":1067.62,"l":1067.33,"d":"r"},{"m":3005,"p":1067.71,"l":1067,"d":"r"},{"m":3010,"p":1067.04,"l":1066.04,"d":"r"},{"m":3015,"p":1066.57,"l":1065.95,"d":"r"},{"m":3020,"p":1067.47,"l":1066.09,"d":"u"},{"m":3025,"p":1067.76,"l":1067.33,"d":"u"},{"m":3030,"p":1067.81,"l":1067.23,"d":"r"},{"m":3035,"p":1067.38,"l":1066.85,"d":"r"},{"m":3040,"p":1067.23,"l":1067,"d":"u"},{"m":3045,"p":1067.09,"l":1065.81,"d":"r"},{"m":3050,"p":1066.09,"l":1065.57,"d":"u"},{"m":3055,"p":1066.19,"l":1065.52,"d":"r"},{"m":3060,"p":1065.66,"l":1064.76,"d":"r"},{"m":3065,"p":1065.09,"l":1064.14,"d":"r"},{"m":3070,"p":1064.14,"l":1062.76,"d":"r"},{"m":3075,"p":1064.14,"l":1063.38,"d":"u"},{"m":3080,"p":1064.14,"l":1062.28,"d":"r"},{"m":3085,"p":1062.43,"l":1059.14,"d":"r"},{"m":3090,"p":1061.04,"l":1059.47,"d":"u"},{"m":3095,"p":1061.47,"l":1060.28,"d":"r"},{"m":3100,"p":1061.57,"l":1060,"d":"u"},{"m":3105,"p":1062.14,"l":1061.28,"d":"u"},{"m":3110,"p":1062.43,"l":1062,"d":"u"},{"m":3115,"p":1063.09,"l":1062.38,"d":"u"},{"m":3120,"p":1063.62,"l":1062.81,"d":"u"},{"m":3125,"p":1064.85,"l":1063.38,"d":"u"},{"m":3130,"p":1065.14,"l":1064.57,"d":"u"},{"m":3135,"p":1065.09,"l":1064.62,"d":"r"},{"m":3140,"p":1064.95,"l":1064.33,"d":"r"},{"m":3145,"p":1064.52,"l":1064.28,"d":"u"},{"m":3150,"p":1065.9,"l":1064.43,"d":"u"},{"m":3155,"p":1065.85,"l":1064.9,"d":"r"},{"m":3160,"p":1065,"l":1064.57,"d":"r"},{"m":3165,"p":1065.09,"l":1064.52,"d":"u"},{"m":3170,"p":1065.43,"l":1065,"d":"u"},{"m":3175,"p":1065.71,"l":1065.23,"d":"u"},{"m":3180,"p":1066.23,"l":1065.47,"d":"u"},{"m":3185,"p":1066.38,"l":1065.66,"d":"r"},{"m":3190,"p":1066.66,"l":1065.66,"d":"u"},{"m":3195,"p":1066.76,"l":1066.28,"d":"r"},{"m":3200,"p":1066.62,"l":1066.19,"d":"r"},{"m":3205,"p":1066.62,"l":1065.81,"d":"u"},{"m":3210,"p":1066.62,"l":1065.76,"d":"r"},{"m":3215,"p":1065.95,"l":1065.52,"d":"r"},{"m":3220,"p":1065.57,"l":1065.23,"d":"r"},{"m":3225,"p":1065.33,"l":1064.33,"d":"r"},{"m":3230,"p":1064.71,"l":1063.85,"d":"r"},{"m":3235,"p":1064.47,"l":1063.85,"d":"u"},{"m":3240,"p":1064.38,"l":1063.66,"d":"r"},{"m":3245,"p":1063.85,"l":1062.33,"d":"r"},{"m":3250,"p":1062.38,"l":1061.66,"d":"r"},{"m":3255,"p":1063.19,"l":1062.14,"d":"u"},{"m":3260,"p":1063.23,"l":1062.9,"d":"u"},{"m":3265,"p":1063.9,"l":1063.14,"d":"u"},{"m":3270,"p":1064.81,"l":1063.43,"d":"u"},{"m":3275,"p":1064.85,"l":1064.52,"d":"u"},{"m":3280,"p":1068.14,"l":1064.76,"d":"u"},{"m":3285,"p":1067.85,"l":1066.04,"d":"r"},{"m":3290,"p":1066.71,"l":1066,"d":"u"},{"m":3295,"p":1066.76,"l":1066.28,"d":"r"},{"m":3300,"p":1066.81,"l":1066.14,"d":"r"},{"m":3305,"p":1066.9,"l":1066.38,"d":"u"},{"m":3310,"p":1067.47,"l":1066.71,"d":"u"},{"m":3315,"p":1067.38,"l":1066.62,"d":"r"},{"m":3320,"p":1067.09,"l":1066.52,"d":"u"},{"m":3325,"p":1069.43,"l":1067,"d":"u"},{"m":3330,"p":1069.47,"l":1068.38,"d":"r"},{"m":3335,"p":1068.57,"l":1067.9,"d":"r"},{"m":3340,"p":1068.19,"l":1067.9,"d":"u"},{"m":3345,"p":1068.23,"l":1067.19,"d":"r"},{"m":3350,"p":1067.33,"l":1067,"d":"r"},{"m":3355,"p":1067.66,"l":1067.09,"d":"u"},{"m":3360,"p":1067.47,"l":1067,"d":"r"},{"m":3365,"p":1067.14,"l":1066.57,"d":"r"},{"m":3370,"p":1067.14,"l":1066.66,"d":"r"},{"m":3375,"p":1067.14,"l":1066.66,"d":"u"},{"m":3380,"p":1067.04,"l":1066.62,"d":"r"},{"m":3385,"p":1067.09,"l":1066.66,"d":"u"},{"m":3390,"p":1067.23,"l":1066.66,"d":"r"},{"m":3395,"p":1067.23,"l":1066.66,"d":"u"},{"m":3400,"p":1067.71,"l":1067.19,"d":"u"},{"m":3405,"p":1067.76,"l":1067.19,"d":"r"},{"m":3410,"p":1068,"l":1067.19,"d":"u"},{"m":3415,"p":1067.95,"l":1067.57,"d":"r"},{"m":3420,"p":1067.71,"l":1067.43,"d":"u"},{"m":3425,"p":1067.62,"l":1066.19,"d":"r"},{"m":3430,"p":1066.28,"l":1066,"d":"r"},{"m":3435,"p":1066.52,"l":1066.04,"d":"u"},{"m":3440,"p":1066.85,"l":1066.43,"d":"u"},{"m":3445,"p":1066.71,"l":1066.47,"d":"u"},{"m":3450,"p":1066.76,"l":1066.09,"d":"r"},{"m":3455,"p":1066.19,"l":1065.57,"d":"r"},{"m":3460,"p":1066.52,"l":1065.9,"d":"u"},{"m":3465,"p":1066.57,"l":1065.76,"d":"r"},{"m":3470,"p":1065.95,"l":1065.62,"d":"u"},{"m":3475,"p":1065.9,"l":1065.38,"d":"r"},{"m":3480,"p":1066,"l":1065.66,"d":"r"},{"m":3485,"p":1065.95,"l":1065.43,"d":"u"},{"m":3490,"p":1065.85,"l":1065.66,"d":"u"},{"m":3495,"p":1066.66,"l":1065.66,"d":"u"},{"m":3500,"p":1066.66,"l":1065.47,"d":"r"},{"m":3505,"p":1065.85,"l":1065.47,"d":"u"},{"m":3510,"p":1065.95,"l":1065.76,"d":"u"},{"m":3515,"p":1066,"l":1065.81,"d":"u"},{"m":3520,"p":1068.47,"l":1065.9,"d":"u"},{"m":3525,"p":1068.52,"l":1067.81,"d":"r"},{"m":3530,"p":1068.04,"l":1067.57,"d":"r"},{"m":3535,"p":1069.28,"l":1067.62,"d":"u"},{"m":3540,"p":1070.09,"l":1068.62,"d":"r"},{"m":3545,"p":1069.19,"l":1068.71,"d":"u"},{"m":3550,"p":1069.43,"l":1068.81,"d":"u"},{"m":3555,"p":1069.38,"l":1068.62,"d":"r"},{"m":3560,"p":1068.85,"l":1068.62,"d":"u"},{"m":3565,"p":1068.66,"l":1068,"d":"r"},{"m":3570,"p":1068.47,"l":1067.81,"d":"r"},{"m":3575,"p":1069.14,"l":1067.62,"d":"u"},{"m":3580,"p":1068.81,"l":1068.29,"d":"r"},{"m":3585,"p":1068.67,"l":1068.29,"d":"r"},{"m":3590,"p":1069.05,"l":1068.29,"d":"u"},{"m":3595,"p":1069.19,"l":1068.53,"d":"r"},{"m":3600,"p":1068.81,"l":1068.48,"d":"u"},{"m":3605,"p":1068.62,"l":1068.15,"d":"r"},{"m":3610,"p":1068.62,"l":1068.15,"d":"r"},{"m":3615,"p":1068.34,"l":1067.34,"d":"r"},{"m":3620,"p":1067.81,"l":1067.24,"d":"u"},{"m":3625,"p":1067.76,"l":1066.91,"d":"r"},{"m":3630,"p":1069.24,"l":1066.91,"d":"u"},{"m":3635,"p":1073.48,"l":1068.95,"d":"u"},{"m":3640,"p":1071.72,"l":1070.57,"d":"r"},{"m":3645,"p":1073.05,"l":1070.95,"d":"u"},{"m":3650,"p":1073.38,"l":1072.67,"d":"u"},{"m":3655,"p":1073.1,"l":1070.53,"d":"r"},{"m":3660,"p":1070.81,"l":1065.86,"d":"r"},{"m":3665,"p":1068.53,"l":1066.38,"d":"u"},{"m":3670,"p":1067.95,"l":1066.62,"d":"u"},{"m":3675,"p":1067.57,"l":1066,"d":"r"},{"m":3680,"p":1068.24,"l":1066.24,"d":"u"},{"m":3685,"p":1068.19,"l":1067.29,"d":"r"},{"m":3690,"p":1068.76,"l":1066.72,"d":"r"},{"m":3695,"p":1070.34,"l":1065.62,"d":"u"},{"m":3700,"p":1070.24,"l":1069.29,"d":"r"},{"m":3705,"p":1069.76,"l":1068.62,"d":"r"},{"m":3710,"p":1069.1,"l":1067.81,"d":"r"},{"m":3715,"p":1068.57,"l":1067.15,"d":"u"},{"m":3720,"p":1068.53,"l":1066.76,"d":"r"},{"m":3725,"p":1067.95,"l":1066.76,"d":"u"},{"m":3730,"p":1068.76,"l":1067.62,"d":"u"},{"m":3735,"p":1069.1,"l":1068.34,"d":"u"},{"m":3740,"p":1071.1,"l":1068.67,"d":"u"},{"m":3745,"p":1071.43,"l":1070.67,"d":"u"},{"m":3750,"p":1075.91,"l":1071.05,"d":"u"},{"m":3755,"p":1076.95,"l":1074.48,"d":"u"},{"m":3760,"p":1075.48,"l":1073.72,"d":"r"},{"m":3765,"p":1074.62,"l":1073.43,"d":"u"},{"m":3770,"p":1075.15,"l":1074.38,"d":"u"},{"m":3775,"p":1076.72,"l":1074.62,"d":"u"},{"m":3780,"p":1076.34,"l":1074.29,"d":"r"},{"m":3785,"p":1074.34,"l":1073.76,"d":"r"},{"m":3790,"p":1074.34,"l":1073.67,"d":"r"},{"m":3795,"p":1074.29,"l":1073.48,"d":"u"},{"m":3800,"p":1074.91,"l":1073.43,"d":"r"},{"m":3805,"p":1074.15,"l":1073.43,"d":"u"},{"m":3810,"p":1075.05,"l":1074.1,"d":"u"},{"m":3815,"p":1074.95,"l":1074.53,"d":"r"},{"m":3820,"p":1077.81,"l":1074.53,"d":"u"},{"m":3825,"p":1078.1,"l":1076.1,"d":"r"},{"m":3830,"p":1079.48,"l":1076.48,"d":"u"},{"m":3835,"p":1078.19,"l":1076.67,"d":"r"},{"m":3840,"p":1077,"l":1075.86,"d":"r"},{"m":3845,"p":1076.05,"l":1074.81,"d":"r"},{"m":3850,"p":1075.53,"l":1074.81,"d":"u"},{"m":3855,"p":1075.95,"l":1074.57,"d":"r"},{"m":3860,"p":1075.05,"l":1073.76,"d":"r"},{"m":3865,"p":1074,"l":1072.72,"d":"r"},{"m":3870,"p":1072.81,"l":1072.05,"d":"r"},{"m":3875,"p":1072.53,"l":1070.72,"d":"r"},{"m":3880,"p":1071.57,"l":1070.34,"d":"r"},{"m":3885,"p":1071,"l":1066.76,"d":"r"},{"m":3890,"p":1068.53,"l":1067.38,"d":"u"},{"m":3895,"p":1069.43,"l":1068.19,"d":"u"},{"m":3900,"p":1069.67,"l":1068.29,"d":"r"},{"m":3905,"p":1069.29,"l":1067.48,"d":"u"},{"m":3910,"p":1069.24,"l":1068.81,"d":"r"},{"m":3915,"p":1069.57,"l":1068.81,"d":"u"},{"m":3920,"p":1069.05,"l":1068.38,"d":"r"},{"m":3925,"p":1069.15,"l":1068.86,"d":"u"},{"m":3930,"p":1069.05,"l":1067.57,"d":"r"},{"m":3935,"p":1068.19,"l":1067.86,"d":"r"},{"m":3940,"p":1067.91,"l":1067.05,"d":"r"},{"m":3945,"p":1068.15,"l":1067.15,"d":"u"},{"m":3950,"p":1068.05,"l":1067.62,"d":"u"},{"m":3955,"p":1068.24,"l":1067.86,"d":"u"},{"m":3960,"p":1068.05,"l":1067.62,"d":"r"},{"m":3965,"p":1067.67,"l":1066.91,"d":"r"},{"m":3970,"p":1067.43,"l":1066.76,"d":"u"},{"m":3975,"p":1067.29,"l":1067.05,"d":"r"},{"m":3980,"p":1068,"l":1067.19,"d":"u"},{"m":3985,"p":1068.48,"l":1067.86,"d":"u"},{"m":3990,"p":1069.86,"l":1068.43,"d":"u"},{"m":3995,"p":1069.19,"l":1068.34,"d":"r"},{"m":4000,"p":1071.29,"l":1068.62,"d":"u"},{"m":4005,"p":1071.29,"l":1069.67,"d":"r"},{"m":4010,"p":1070.38,"l":1069.72,"d":"u"},{"m":4015,"p":1070.72,"l":1070,"d":"u"},{"m":4020,"p":1070.62,"l":1069.91,"d":"r"},{"m":4025,"p":1070.76,"l":1069.91,"d":"u"},{"m":4030,"p":1070.62,"l":1070.15,"d":"r"},{"m":4035,"p":1071.19,"l":1070.19,"d":"u"},{"m":4040,"p":1071.29,"l":1071.05,"d":"u"},{"m":4045,"p":1071.19,"l":1070.38,"d":"r"},{"m":4050,"p":1070.95,"l":1070.05,"d":"r"},{"m":4055,"p":1070.38,"l":1070.15,"d":"u"},{"m":4060,"p":1070.57,"l":1070.15,"d":"u"},{"m":4065,"p":1070.53,"l":1069.76,"d":"r"},{"m":4070,"p":1070.57,"l":1070.1,"d":"u"},{"m":4075,"p":1071.05,"l":1070.48,"d":"u"},{"m":4080,"p":1070.95,"l":1070.43,"d":"r"},{"m":4085,"p":1071.19,"l":1070.67,"d":"u"},{"m":4090,"p":1071.19,"l":1070.72,"d":"r"},{"m":4095,"p":1071.34,"l":1070.91,"d":"u"},{"m":4100,"p":1073.34,"l":1071.29,"d":"u"},{"m":4105,"p":1073.76,"l":1072.34,"d":"r"},{"m":4110,"p":1074.29,"l":1072.34,"d":"u"},{"m":4115,"p":1074.34,"l":1073.34,"d":"r"},{"m":4120,"p":1073.91,"l":1072.48,"d":"r"},{"m":4125,"p":1073.34,"l":1072.48,"d":"u"},{"m":4130,"p":1074.05,"l":1073.29,"d":"u"},{"m":4135,"p":1074.05,"l":1073.19,"d":"u"},{"m":4140,"p":1073.91,"l":1073.15,"d":"r"},{"m":4145,"p":1073.34,"l":1073,"d":"r"},{"m":4150,"p":1073.86,"l":1073,"d":"u"},{"m":4155,"p":1073.67,"l":1072.34,"d":"r"},{"m":4160,"p":1072.62,"l":1072.34,"d":"r"},{"m":4165,"p":1072.43,"l":1072.24,"d":"r"},{"m":4170,"p":1072.29,"l":1071.48,"d":"r"},{"m":4175,"p":1071.53,"l":1071,"d":"r"},{"m":4180,"p":1071.91,"l":1071.1,"d":"u"},{"m":4185,"p":1072.24,"l":1071.43,"d":"r"},{"m":4190,"p":1071.95,"l":1071.57,"d":"u"},{"m":4195,"p":1072.34,"l":1071.91,"d":"u"},{"m":4200,"p":1072.62,"l":1071.95,"d":"u"},{"m":4205,"p":1072.76,"l":1072.43,"d":"u"},{"m":4210,"p":1072.76,"l":1072.53,"d":"u"},{"m":4215,"p":1072.86,"l":1072.62,"d":"u"},{"m":4220,"p":1073.24,"l":1072.76,"d":"u"},{"m":4225,"p":1073,"l":1072.86,"d":"r"},{"m":4230,"p":1073.29,"l":1072.86,"d":"u"},{"m":4235,"p":1073.19,"l":1072.95,"d":"r"},{"m":4240,"p":1073.1,"l":1072.76,"d":"r"},{"m":4245,"p":1072.81,"l":1071,"d":"r"},{"m":4250,"p":1071.72,"l":1071,"d":"u"},{"m":4255,"p":1071.81,"l":1071.48,"d":"r"},{"m":4260,"p":1071.57,"l":1071.24,"d":"r"},{"m":4265,"p":1071.48,"l":1071.24,"d":"u"},{"m":4270,"p":1071.38,"l":1071.1,"d":"r"},{"m":4275,"p":1071.72,"l":1071.1,"d":"u"},{"m":4280,"p":1071.43,"l":1069.91,"d":"r"},{"m":4285,"p":1071.24,"l":1069.91,"d":"u"},{"m":4290,"p":1071.29,"l":1070.48,"d":"r"},{"m":4295,"p":1070.72,"l":1070.24,"d":"u"},{"m":4300,"p":1070.76,"l":1070.43,"d":"r"},{"m":4305,"p":1070.62,"l":1070.15,"d":"u"},{"m":4310,"p":1070.67,"l":1069.72,"d":"r"},{"m":4315,"p":1069.95,"l":1069.76,"d":"u"},{"m":4320,"p":1070.19,"l":1069.67,"d":"u"},{"m":4325,"p":1070.15,"l":1068.86,"d":"r"},{"m":4330,"p":1069.81,"l":1068.67,"d":"u"},{"m":4335,"p":1069.81,"l":1069.38,"d":"r"},{"m":4340,"p":1069.76,"l":1068.34,"d":"r"},{"m":4345,"p":1068.86,"l":1068.48,"d":"u"},{"m":4350,"p":1069.15,"l":1068.48,"d":"r"},{"m":4355,"p":1069.38,"l":1068.48,"d":"u"},{"m":4360,"p":1069.48,"l":1068.72,"d":"r"},{"m":4365,"p":1069.1,"l":1068.43,"d":"u"},{"m":4370,"p":1069,"l":1068.1,"d":"r"},{"m":4375,"p":1068.19,"l":1067.81,"d":"r"},{"m":4380,"p":1068.53,"l":1067.81,"d":"u"},{"m":4385,"p":1068.57,"l":1068.1,"d":"u"},{"m":4390,"p":1068.62,"l":1068.15,"d":"u"},{"m":4395,"p":1069.57,"l":1068.43,"d":"u"},{"m":4400,"p":1069.62,"l":1069.29,"d":"r"},{"m":4405,"p":1069.57,"l":1069.1,"d":"r"},{"m":4410,"p":1071.43,"l":1069.24,"d":"u"},{"m":4415,"p":1071.91,"l":1070.62,"d":"r"},{"m":4420,"p":1072.1,"l":1070.62,"d":"u"},{"m":4425,"p":1071.57,"l":1070.62,"d":"r"},{"m":4430,"p":1070.91,"l":1070.19,"d":"r"},{"m":4435,"p":1070.19,"l":1069.29,"d":"r"},{"m":4440,"p":1069.62,"l":1068.86,"d":"u"},{"m":4445,"p":1069.91,"l":1068.14,"d":"r"},{"m":4450,"p":1069.34,"l":1068.29,"d":"u"},{"m":4455,"p":1069.29,"l":1068.43,"d":"r"},{"m":4460,"p":1068.67,"l":1061.34,"d":"r"},{"m":4465,"p":1065,"l":1062.48,"d":"u"},{"m":4470,"p":1065.14,"l":1063.95,"d":"u"},{"m":4475,"p":1064.53,"l":1062.62,"d":"r"},{"m":4480,"p":1064.14,"l":1062.67,"d":"u"},{"m":4485,"p":1064.72,"l":1063.43,"d":"u"},{"m":4490,"p":1064.91,"l":1064.29,"d":"r"},{"m":4495,"p":1065.62,"l":1064.34,"d":"u"},{"m":4500,"p":1065.86,"l":1065.14,"d":"u"},{"m":4505,"p":1065.91,"l":1064.76,"d":"r"},{"m":4510,"p":1065.53,"l":1064.62,"d":"u"},{"m":4515,"p":1065.67,"l":1065,"d":"r"},{"m":4520,"p":1065.53,"l":1065,"d":"u"},{"m":4525,"p":1065.67,"l":1065.48,"d":"u"},{"m":4530,"p":1066.34,"l":1065.53,"d":"u"},{"m":4535,"p":1067.24,"l":1065.95,"d":"u"},{"m":4540,"p":1067.34,"l":1066.62,"d":"r"},{"m":4545,"p":1068.05,"l":1066.81,"d":"u"},{"m":4550,"p":1068,"l":1067.48,"d":"r"},{"m":4555,"p":1068.05,"l":1067.48,"d":"u"},{"m":4560,"p":1067.76,"l":1067.1,"d":"r"},{"m":4565,"p":1067.81,"l":1067.1,"d":"u"},{"m":4570,"p":1067.76,"l":1067.34,"d":"u"},{"m":4575,"p":1068,"l":1067.43,"d":"u"},{"m":4580,"p":1067.67,"l":1066.72,"d":"r"},{"m":4585,"p":1066.86,"l":1066.24,"d":"r"},{"m":4590,"p":1066.81,"l":1066.14,"d":"u"},{"m":4595,"p":1066.81,"l":1066.53,"d":"u"},{"m":4600,"p":1066.81,"l":1066.34,"d":"r"},{"m":4605,"p":1067.05,"l":1066.29,"d":"u"},{"m":4610,"p":1068.19,"l":1066.95,"d":"u"},{"m":4615,"p":1068.29,"l":1067.91,"d":"r"},{"m":4620,"p":1068.24,"l":1067.86,"d":"u"},{"m":4625,"p":1067.95,"l":1067.76,"d":"u"},{"m":4630,"p":1068.38,"l":1067.86,"d":"u"},{"m":4635,"p":1068.48,"l":1068.14,"d":"u"},{"m":4640,"p":1068.76,"l":1067.34,"d":"r"},{"m":4645,"p":1067.43,"l":1066.91,"d":"r"},{"m":4650,"p":1067.29,"l":1066.91,"d":"r"},{"m":4655,"p":1066.95,"l":1066.67,"d":"r"},{"m":4660,"p":1066.95,"l":1066.72,"d":"u"},{"m":4665,"p":1067.1,"l":1066.72,"d":"u"},{"m":4670,"p":1067.24,"l":1066.95,"d":"u"},{"m":4675,"p":1067.57,"l":1066.95,"d":"u"},{"m":4680,"p":1067.57,"l":1066.81,"d":"r"},{"m":4685,"p":1067.1,"l":1066.72,"d":"r"},{"m":4690,"p":1066.76,"l":1066.34,"d":"r"},{"m":4695,"p":1068.34,"l":1066.48,"d":"u"},{"m":4700,"p":1068.14,"l":1067.76,"d":"r"},{"m":4705,"p":1069.05,"l":1067.95,"d":"u"},{"m":4710,"p":1068.53,"l":1067.91,"d":"r"},{"m":4715,"p":1068.05,"l":1067.57,"d":"u"},{"m":4720,"p":1068.62,"l":1067.91,"d":"u"},{"m":4725,"p":1068.62,"l":1067.72,"d":"r"},{"m":4730,"p":1067.95,"l":1066.48,"d":"r"},{"m":4735,"p":1066.62,"l":1066.34,"d":"r"},{"m":4740,"p":1066.48,"l":1065.86,"d":"r"},{"m":4745,"p":1066.29,"l":1065.81,"d":"u"},{"m":4750,"p":1066.05,"l":1065.57,"d":"r"},{"m":4755,"p":1065.67,"l":1064.29,"d":"r"},{"m":4760,"p":1065.14,"l":1064.57,"d":"u"},{"m":4765,"p":1065.43,"l":1064.95,"d":"u"},{"m":4770,"p":1065.34,"l":1063.76,"d":"r"},{"m":4775,"p":1065.05,"l":1064.57,"d":"u"},{"m":4780,"p":1065.05,"l":1064.38,"d":"r"},{"m":4785,"p":1065.67,"l":1064.62,"d":"u"},{"m":4790,"p":1065.67,"l":1064.81,"d":"r"},{"m":4795,"p":1066.05,"l":1065.34,"d":"u"},{"m":4800,"p":1066.29,"l":1065.81,"d":"u"},{"m":4805,"p":1066.19,"l":1065.67,"d":"r"},{"m":4810,"p":1066.43,"l":1065.86,"d":"u"},{"m":4815,"p":1069,"l":1066.29,"d":"u"},{"m":4820,"p":1068.91,"l":1067.76,"d":"r"},{"m":4825,"p":1069.29,"l":1068.14,"d":"u"},{"m":4830,"p":1069.34,"l":1068.76,"d":"r"},{"m":4835,"p":1069.05,"l":1068.72,"d":"u"},{"m":4840,"p":1068.95,"l":1068.48,"d":"r"},{"m":4845,"p":1070.14,"l":1068.57,"d":"u"},{"m":4850,"p":1070.57,"l":1069.72,"d":"u"},{"m":4855,"p":1070.91,"l":1069.86,"d":"u"},{"m":4860,"p":1070.95,"l":1070.62,"d":"r"},{"m":4865,"p":1070.86,"l":1069.76,"d":"r"},{"m":4870,"p":1070.24,"l":1069.81,"d":"u"},{"m":4875,"p":1070.43,"l":1069.53,"d":"r"},{"m":4880,"p":1069.76,"l":1069.53,"d":"u"},{"m":4885,"p":1069.81,"l":1069.53,"d":"r"},{"m":4890,"p":1070.48,"l":1069.53,"d":"u"},{"m":4895,"p":1070.91,"l":1070.34,"d":"u"},{"m":4900,"p":1071.24,"l":1070.57,"d":"u"},{"m":4905,"p":1072.1,"l":1071,"d":"u"},{"m":4910,"p":1072.53,"l":1070.81,"d":"r"},{"m":4915,"p":1071.29,"l":1070.81,"d":"u"},{"m":4920,"p":1072.14,"l":1071.14,"d":"u"},{"m":4925,"p":1072.14,"l":1071.76,"d":"r"},{"m":4930,"p":1071.86,"l":1070.62,"d":"r"},{"m":4935,"p":1071.24,"l":1070.76,"d":"u"},{"m":4940,"p":1071.57,"l":1070.91,"d":"u"},{"m":4945,"p":1071.57,"l":1070.67,"d":"r"},{"m":4950,"p":1070.72,"l":1070.38,"d":"r"},{"m":4955,"p":1071.57,"l":1070.53,"d":"u"},{"m":4960,"p":1071.67,"l":1071.19,"d":"r"},{"m":4965,"p":1071.72,"l":1071.19,"d":"u"},{"m":4970,"p":1072.48,"l":1071.67,"d":"u"},{"m":4975,"p":1072.24,"l":1071.38,"d":"r"},{"m":4980,"p":1071.57,"l":1071.1,"d":"r"},{"m":4985,"p":1071.34,"l":1071.1,"d":"u"},{"m":4990,"p":1071.48,"l":1071.05,"d":"r"},{"m":4995,"p":1071.29,"l":1070.38,"d":"r"},{"m":5000,"p":1071,"l":1070.43,"d":"u"},{"m":5005,"p":1070.91,"l":1070.67,"d":"r"},{"m":5010,"p":1070.86,"l":1069.48,"d":"r"},{"m":5015,"p":1069.62,"l":1069.43,"d":"r"},{"m":5020,"p":1069.86,"l":1069.43,"d":"u"},{"m":5025,"p":1071.91,"l":1069.81,"d":"u"},{"m":5030,"p":1071.86,"l":1070.95,"d":"r"},{"m":5035,"p":1071.86,"l":1071.34,"d":"r"},{"m":5040,"p":1071.91,"l":1071.34,"d":"u"},{"m":5045,"p":1073,"l":1071.86,"d":"u"},{"m":5050,"p":1073.05,"l":1072.76,"d":"r"},{"m":5055,"p":1072.81,"l":1072.38,"d":"r"},{"m":5060,"p":1073.14,"l":1072.29,"d":"r"},{"m":5065,"p":1073.43,"l":1072.29,"d":"u"},{"m":5070,"p":1073.86,"l":1073.05,"d":"u"},{"m":5075,"p":1074.19,"l":1072.91,"d":"u"},{"m":5080,"p":1074,"l":1073.43,"d":"r"},{"m":5085,"p":1074,"l":1072.91,"d":"r"},{"m":5090,"p":1075.29,"l":1072.91,"d":"u"},{"m":5095,"p":1075.38,"l":1074.76,"d":"r"}]
},
"encoding":{
"x":{"field":"m","type":"quantitative","title":null,"scale":{"domain":[615,5150],"nice":false,"zero":false},"axis":{"orient":"bottom","values":[720,1080,1440,1800,2160,2520,2880,3240,3600,3960,4320,4680,5040],"labelExpr":"datum.value%1440==0 ? format(6+datum.value/1440,'d') : format((datum.value%1440)/60,'02d')+':00'","labelFontSize":25,"labelColor":"#e4e5ea","labelFont":"Roboto","labelFontWeight":{"condition":{"test":"datum.value%1440==0","value":"bold"},"value":"normal"},"labelBaseline":"middle","labelPadding":29,"labelOverlap":false,"labelFlush":false,"labelBound":false,"ticks":false,"domainColor":"#2a2a2a","domainWidth":2,"grid":true,"gridColor":"#161616","gridWidth":2,"zindex":1}},
"y":{"field":"p","type":"quantitative","title":null,"scale":{"domain":[1036.286,1109.857],"nice":false,"zero":false},"axis":{"orient":"right","values":[1108.01,1104.1,1100.2,1095.29,1090.35,1085.38,1081.43,1077.4,1073.41,1069.38,1065.33,1061.33,1058.19,1055.14,1052.12,1049.01,1045.92,1043,1039.92,1037],"labelExpr":"datum.value>1107 ? '' : format(datum.value/1000,'.4~r')+'T'","labelFontSize":25,"labelColor":"#e4e5ea","labelFont":"Roboto","labelPadding":18,"labelOffset":2,"labelOverlap":false,"labelFlush":false,"labelBound":false,"ticks":false,"domainColor":"#2a2a2a","domainWidth":2,"grid":true,"gridColor":"#161616","gridWidth":2,"zindex":1}}
},
"layer":[
{"data":{"name":"frame"},"mark":{"type":"rect","fill":"#000000","stroke":"#2a2e39","strokeWidth":2,"clip":false},"encoding":{"x2":{"field":"m2"},"y2":{"field":"p2"}}},
{"data":{"name":"last"},"mark":{"type":"rule","color":"#f7525f","strokeWidth":2,"strokeDash":[2,4]},"encoding":{"x":{"value":0},"x2":{"value":2723}}},
{"data":{"name":"bars"},"mark":{"type":"rule","strokeWidth":2,"clip":true},"encoding":{"y2":{"field":"l"},"color":{"field":"d","type":"nominal","legend":null,"scale":{"domain":["u","r","white","muted"],"range":["#22ab94","#f7525f","#ffffff","#c8cad6"]}}}},
{"data":{"name":"tag"},"mark":{"type":"rect","fill":"#f7525f","cornerRadius":3,"clip":false},"encoding":{"x2":{"field":"m2"},"y2":{"field":"p2"}}},
{"data":{"name":"ann"},"mark":{"type":"text","align":"left","baseline":"middle","font":"Inter","fontSize":24,"clip":false},"encoding":{"text":{"field":"t"},"color":{"field":"d","type":"nominal","legend":null,"scale":{"domain":["u","r","white","muted"],"range":["#22ab94","#f7525f","#ffffff","#c8cad6"]}}}},
{"data":{"name":"tagtext"},"mark":{"type":"text","align":"left","baseline":"middle","font":"Roboto","fontSize":25,"clip":false},"encoding":{"text":{"field":"t"},"color":{"field":"d","type":"nominal","legend":null,"scale":{"domain":["u","r","white","muted"],"range":["#22ab94","#f7525f","#ffffff","#c8cad6"]}}}},
{"data":{"name":"brand"},"mark":{"type":"text","align":"left","baseline":"middle","font":"Inter","fontSize":25.4,"clip":false},"encoding":{"text":{"field":"t"},"color":{"field":"d","type":"nominal","legend":null,"scale":{"domain":["u","r","white","muted"],"range":["#22ab94","#f7525f","#ffffff","#c8cad6"]}}}},
{"data":{"name":"badge"},"mark":{"type":"point","shape":"circle","filled":true,"fill":"#131722","stroke":"#ab47bc","strokeWidth":3,"size":1150,"opacity":1,"clip":false}},
{"data":{"name":"badge"},"mark":{"type":"point","shape":"M0.4,-1 L-0.7,0.05 L0,0.05 L-0.4,1 L0.75,-0.2 L0.05,-0.2 Z","filled":true,"fill":"#ab47bc","size":400,"opacity":1,"clip":false}},
{"data":{"name":"logo"},"mark":{"type":"point","shape":"M-1,-0.51 L-0.165,-0.51 L-0.165,0.51 L-0.61,0.51 L-0.61,-0.2 L-1,-0.2 Z M0.36,-0.51 L1,-0.51 L0.61,0.51 L0.126,0.51 Z M-0.07,-0.36 A0.155,0.155 0 1 0 0.24,-0.36 A0.155,0.155 0 1 0 -0.07,-0.36 Z","filled":true,"fill":"#c8cad6","size":1521,"opacity":1,"clip":false}}
]}
